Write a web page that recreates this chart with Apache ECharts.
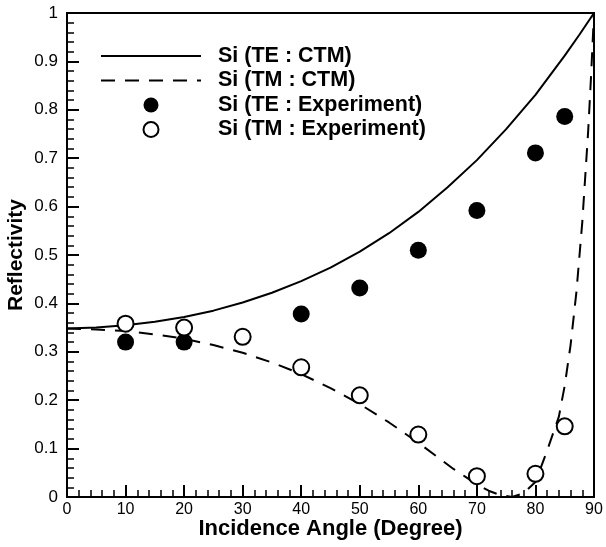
<!DOCTYPE html>
<html>
<head>
<meta charset="utf-8">
<script src="https://cdn.jsdelivr.net/npm/echarts@6/dist/echarts.min.js"></script>
<style>
html,body{margin:0;padding:0;background:#fff;}
#chart{width:606px;height:547px;}
</style>
</head>
<body>
<div id="chart"></div>
<script>
// Curve
const teCtmAngles = [0,5,10,15,20,25,30,35,40,45,50,55,60,65,70,75,80,85,87.5,90];
const teCtmValues = [0.348,0.350,0.355,0.362,0.372,0.385,0.402,0.422,0.446,0.474,0.507,0.545,0.589,0.640,0.696,0.760,0.831,0.912,0.955,1.0];

const tmCtmAngles = [0,5,10,15,20,25,30,35,40,45,50,55,60,64,66,68,70,72,74,76,78,80,82,84,85,86,87,88,89,89.5,90];
const tmCtmValues = [0.348,0.346,0.343,0.336,0.327,0.314,0.298,0.278,0.254,0.225,0.192,0.154,0.112,0.076,0.058,0.042,0.026,0.013,0.004,0.000,0.008,0.031,0.096,0.166,0.230,0.314,0.424,0.568,0.755,0.870,1.0];

const teExpAngles = [10,20,40,50,60,70,80,85];
const teExpValues = [0.320,0.320,0.378,0.432,0.510,0.592,0.711,0.786];

const tmExpAngles = [10,20,30,40,50,60,70,80,85];
const tmExpValues = [0.358,0.350,0.331,0.268,0.210,0.129,0.043,0.048,0.146];

const seriesNames = ['Si (TE : CTM)','Si (TM : CTM)','Si (TE : Experiment)','Si (TM : Experiment)'];
const xTitle = 'Incidence Angle (Degree)';
const yTitle = 'Reflectivity';

function pairs(xs, ys){ return xs.map((x,i)=>[x, ys[i]]); }

const FONT = 'Liberation Sans, Arial, sans-serif';
const chart = echarts.init(document.getElementById('chart'), null, {renderer:'canvas'});
chart.setOption({
  backgroundColor:'#fff',
  animation:false,
  grid:{left:67,right:12,top:13,bottom:50,show:true,borderColor:'#000',borderWidth:2,backgroundColor:'transparent',
        containLabel:false,outerBoundsMode:'none'},
  legend:{
    left:95, top:40, orient:'vertical', padding:5,
    itemWidth:100, itemHeight:15, itemGap:2.5,
    data:seriesNames,
    textStyle:{fontFamily:FONT,fontWeight:'bold',fontSize:21.5,color:'#000',lineHeight:20,padding:[0,0,0,12]}
  },
  xAxis:{
    type:'value', min:0, max:90, interval:10,
    name:xTitle, nameLocation:'middle', nameGap:21, nameMoveOverlap:false,
    nameTextStyle:{fontFamily:FONT,fontWeight:'bold',fontSize:22,color:'#000'},
    axisLine:{show:true,lineStyle:{color:'#000',width:2}},
    axisTick:{show:true,inside:true,length:12,lineStyle:{color:'#000',width:2}},
    minorTick:{show:true,splitNumber:5,length:7,lineStyle:{color:'#000',width:1.5}},
    splitLine:{show:false},
    axisLabel:{fontFamily:FONT,fontSize:16,color:'#000',margin:5}
  },
  yAxis:{
    type:'value', min:0, max:1, interval:0.1,
    name:yTitle, nameLocation:'middle', nameGap:40, nameRotate:90, nameMoveOverlap:false,
    nameTextStyle:{fontFamily:FONT,fontWeight:'bold',fontSize:21,color:'#000'},
    axisLine:{show:true,lineStyle:{color:'#000',width:2}},
    axisTick:{show:true,inside:true,length:12,lineStyle:{color:'#000',width:2}},
    minorTick:{show:true,splitNumber:5,length:7,lineStyle:{color:'#000',width:1.5}},
    splitLine:{show:false},
    axisLabel:{fontFamily:FONT,fontSize:17,color:'#000',margin:9}
  },
  series:[
    {name:seriesNames[0],type:'line',data:pairs(teCtmAngles,teCtmValues),symbol:'none',
     lineStyle:{color:'#000',width:2,type:'solid'},itemStyle:{color:'rgba(0,0,0,0)',borderWidth:0},z:2},
    {name:seriesNames[1],type:'line',data:pairs(tmCtmAngles,tmCtmValues),symbol:'none',
     lineStyle:{color:'#000',width:2,type:[14,10]},itemStyle:{color:'rgba(0,0,0,0)',borderWidth:0},z:2},
    {name:seriesNames[2],type:'scatter',data:pairs(teExpAngles,teExpValues),symbol:'circle',symbolSize:17,
     itemStyle:{color:'#000',opacity:1},z:3},
    {name:seriesNames[3],type:'scatter',data:pairs(tmExpAngles,tmExpValues),symbol:'circle',symbolSize:16,
     itemStyle:{color:'#fff',borderColor:'#000',borderWidth:2,opacity:1},z:4}
  ]
});
</script>
</body>
</html>
